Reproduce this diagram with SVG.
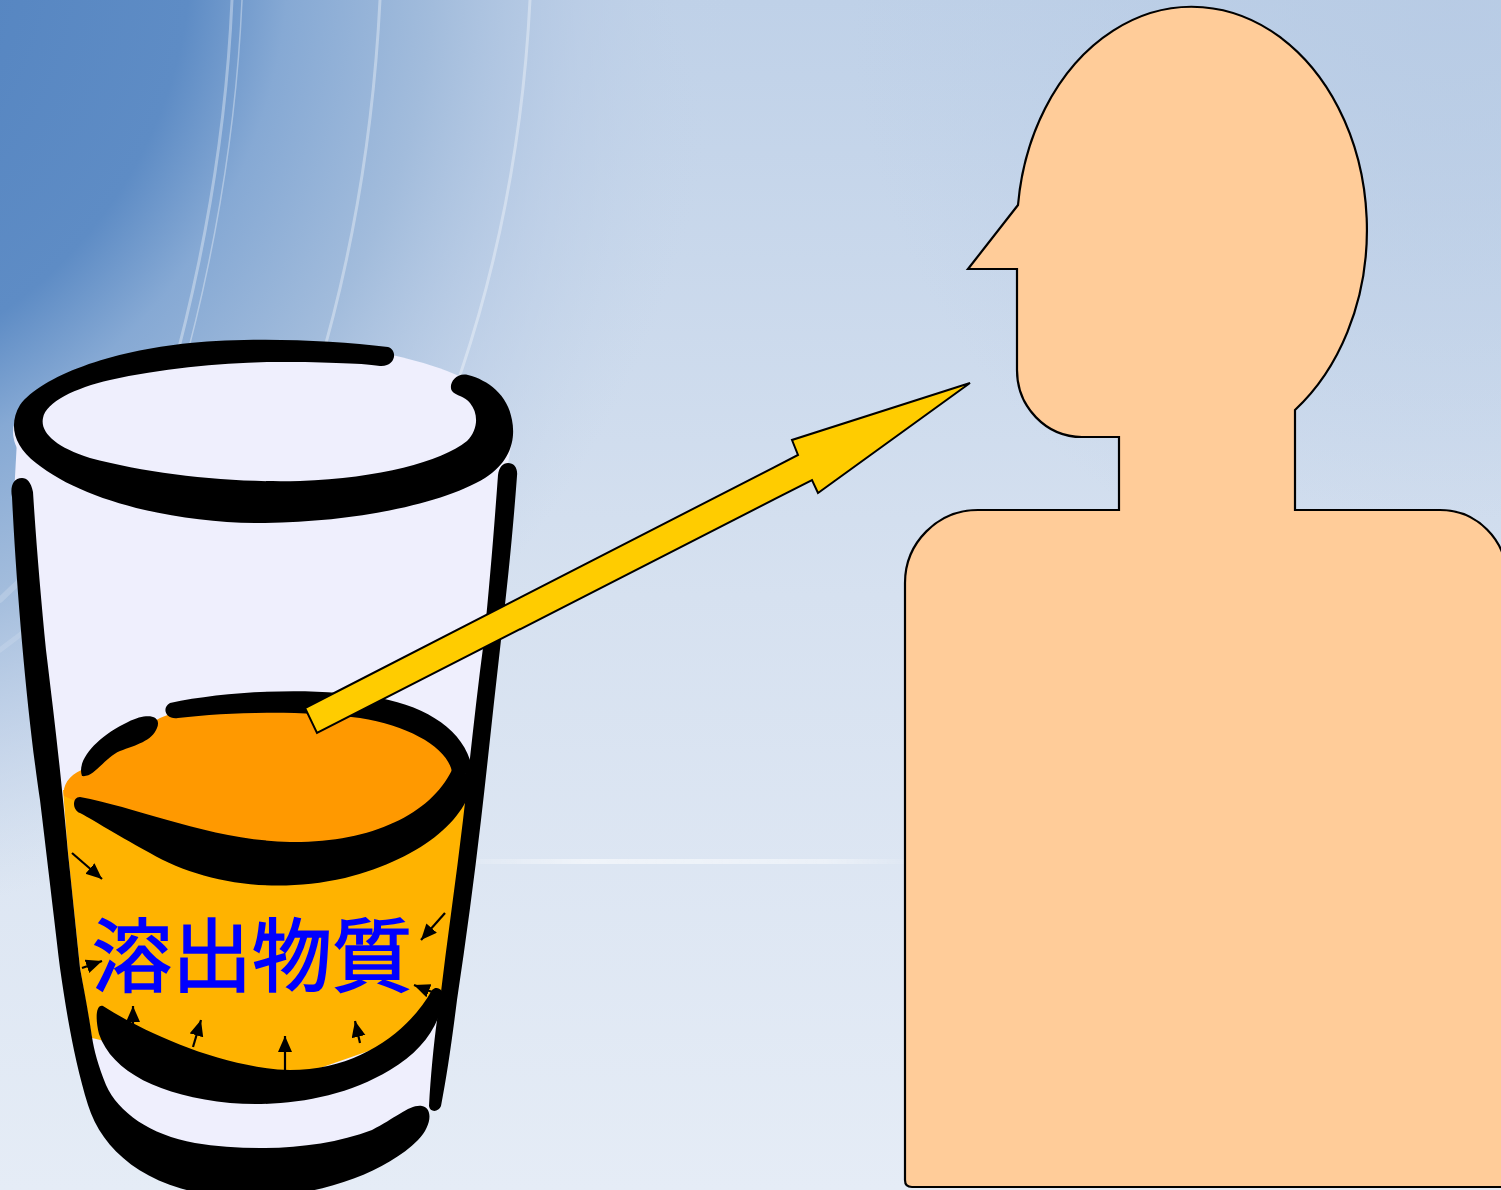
<svg xmlns="http://www.w3.org/2000/svg" width="1501" height="1190" viewBox="0 0 1501 1190">
  <defs>
    <linearGradient id="sky" x1="0" y1="0" x2="0" y2="1">
      <stop offset="0" stop-color="#bfd1e8"/>
      <stop offset="0.5" stop-color="#d6e1f0"/>
      <stop offset="1" stop-color="#e5ecf6"/>
    </linearGradient>
    <radialGradient id="skyCorner" cx="-250" cy="-50" r="980" gradientUnits="userSpaceOnUse">
      <stop offset="0" stop-color="#4e7fbd"/>
      <stop offset="0.45" stop-color="#5e8cc5"/>
      <stop offset="0.55" stop-color="#86a9d4"/>
      <stop offset="0.7" stop-color="#a2bcdc"/>
      <stop offset="0.85" stop-color="#b8cbe5" stop-opacity="0.6"/>
      <stop offset="1" stop-color="#c3d4e9" stop-opacity="0"/>
    </radialGradient>
    <radialGradient id="skyRight" cx="1450" cy="0" r="600" gradientUnits="userSpaceOnUse">
      <stop offset="0" stop-color="#b6cae4" stop-opacity="0.8"/>
      <stop offset="1" stop-color="#b6cae4" stop-opacity="0"/>
    </radialGradient>
    <linearGradient id="band" x1="0" y1="0" x2="1" y2="0">
      <stop offset="0" stop-color="#ffffff" stop-opacity="0"/>
      <stop offset="0.3" stop-color="#ffffff" stop-opacity="0.55"/>
      <stop offset="0.8" stop-color="#ffffff" stop-opacity="0.45"/>
      <stop offset="1" stop-color="#ffffff" stop-opacity="0"/>
    </linearGradient>
    <marker id="ah" markerUnits="userSpaceOnUse" markerWidth="18" markerHeight="16" refX="16" refY="7" orient="auto">
      <path d="M0,0 L16,7 L0,14 Z" fill="#000"/>
    </marker>
    <style>
      .ink { fill: #000; }
      .glass { fill: #efeffd; }
      .streak { fill: none; stroke: #ffffff; stroke-linecap: round; }
      .tick { stroke: #000; stroke-width: 2.2; fill: none; marker-end: url(#ah); }
      .skin { fill: #ffcc99; stroke: #000; stroke-width: 2.2; stroke-linejoin: miter; }
      .label { font-family: "Noto Sans CJK JP", "Noto Sans CJK SC", sans-serif; font-size: 80px; font-weight: 400; fill: #0000ff; stroke: #0000ff; stroke-width: 1.6; }
    </style>
  </defs>

  <!-- backdrop -->
  <rect x="0" y="0" width="1501" height="1190" fill="url(#sky)"/>
  <rect x="0" y="0" width="1501" height="1190" fill="url(#skyRight)"/>
  <rect x="0" y="0" width="1501" height="1190" fill="url(#skyCorner)"/>
  <g opacity="0.35">
    <path class="streak" d="M232,0 Q222,230 143,470" stroke-width="3"/>
    <path class="streak" d="M242,0 Q232,230 153,470" stroke-width="1.5"/>
    <path class="streak" d="M380,0 Q368,240 292,450" stroke-width="3"/>
    <path class="streak" d="M530,0 Q518,240 432,450" stroke-width="3"/>
    <path class="streak" d="M0,600 Q40,560 100,520" stroke-width="6" opacity="0.5"/>
    <path class="streak" d="M0,650 Q50,610 110,580" stroke-width="5" opacity="0.4"/>
  </g>
  <rect x="440" y="859" width="480" height="5" fill="url(#band)"/>

  <!-- glass with liquid -->
  <g id="glass">
    <ellipse class="glass" cx="263" cy="432" rx="250" ry="90"/>
    <path class="glass" d="M17,440 L14,495 L48,853 L75,1050 L130,1150 L260,1165 L420,1118 L440,1100 L507,470 L512,440 Z"/>

    <!-- liquid body and surface -->
    <path fill="#ffb300" d="M63,790 L470,785 L458,900 L447,988 L437,994 L400,1040 L280,1082 L150,1052 L92,1038 L80,968 L68,853 Z"/>
    <path fill="#ff9900" d="M64,796 C62,783 72,773 86,768 L130,735 L160,718 L175,712 C250,700 330,700 400,712 C440,725 462,750 462,775 L452,778 C430,818 370,848 290,848 C210,848 140,815 80,803 Z"/>

    <!-- liquid outlines -->
    <path class="ink" d="M82,776 C76,760 98,736 128,722 C148,712 162,716 157,728 C152,741 136,745 120,751 C104,758 94,778 82,776 Z"/>
    <path class="ink" d="M170,703 C230,690 320,687 380,698 C432,708 470,735 473,775 L452,772 C448,748 410,726 360,718 C300,710 230,712 178,718 C166,720 161,708 170,703 Z"/>
    <path class="ink" d="M80,797 C140,808 210,840 290,842 C370,843 430,815 452,770 L473,775 C472,815 425,858 345,878 C270,895 200,882 150,853 C110,831 90,818 80,813 C72,810 72,797 80,797 Z"/>
    <path class="ink" d="M103,1006 C140,1030 220,1068 290,1070 C360,1070 410,1030 432,990 C438,984 446,992 443,1002 C437,1030 420,1052 390,1070 C340,1100 280,1107 230,1103 C160,1096 112,1072 99,1034 C95,1018 96,1004 103,1006 Z"/>

    <!-- diffusion arrows -->
    <line class="tick" x1="72" y1="853" x2="102" y2="879"/>
    <line class="tick" x1="82" y1="968" x2="102" y2="961"/>
    <line class="tick" x1="445" y1="913" x2="421" y2="940"/>
    <line class="tick" x1="440" y1="995" x2="414" y2="985"/>
    <line class="tick" x1="133" y1="1031" x2="133" y2="1006"/>
    <line class="tick" x1="193" y1="1047" x2="201" y2="1020"/>
    <line class="tick" x1="285" y1="1070" x2="285" y2="1036"/>
    <line class="tick" x1="360" y1="1043" x2="355" y2="1021"/>

    <text class="label" x="252" y="985" text-anchor="middle">溶出物質</text>

    <!-- glass outlines -->
    <path class="ink" d="M388,347 C330,340 250,337 190,343 C110,351 42,376 20,405 C8,425 14,446 36,463 C82,500 170,522 255,523 C350,523 440,505 485,478 C510,462 516,440 512,420 C508,395 488,380 468,375 C455,372 448,385 452,391 C456,396 465,396 470,403 C479,414 478,430 467,441 C440,462 380,478 300,481 C230,483 150,474 90,458 C55,447 40,432 43,418 C46,402 75,388 110,380 C160,369 220,363 270,362 C320,362 360,363 380,366 C396,367 398,350 388,347 Z"/>
    <path class="ink" d="M22,478 C13,478 10,487 12,497 C17,600 28,720 40,800 C46,850 52,900 60,968 C66,1010 74,1060 88,1105 C102,1150 145,1188 220,1196 C300,1203 380,1178 418,1140 C432,1126 433,1108 422,1106 C410,1104 396,1118 372,1130 C320,1150 250,1152 195,1143 C150,1135 118,1112 106,1085 C98,1065 94,1050 92,1037 C88,1010 84,990 80,968 C76,930 72,890 68,853 C66,830 64,810 62,790 C57,740 52,700 46,650 C41,600 36,540 33,492 C31,482 27,478 22,478 Z"/>
    <path class="ink" d="M508,463 C514,463 518,468 517,476 C513,530 508,580 501,640 C494,700 488,760 481,820 C474,880 466,940 457,1000 C452,1040 447,1075 441,1106 C439,1112 430,1113 429,1106 C431,1070 435,1030 440,1000 C447,940 456,880 463,820 C470,760 476,700 484,640 C490,580 494,530 498,475 C499,467 503,463 508,463 Z"/>
  </g>

  <!-- transfer arrow from liquid to person -->
  <g id="connectors">
    <polygon points="305,708 798,455 792,440 970,383 818,493 812,480 317,733" fill="#ffcc00" stroke="#000" stroke-width="2" stroke-linejoin="miter"/>
  </g>

  <!-- person silhouette -->
  <g id="person">
    <path class="skin" d="M1018,205 A175,223 0 1 1 1295,410 L1295,510 L1440,510 A66.5,66.5 0 0 1 1506.5,576.5 L1506.5,1187 L912,1187 Q905,1187 905,1180 L905,583 A73,73 0 0 1 978,510 L1119,510 L1119,437 L1082,437 A65,67 0 0 1 1017,370 L1017,269 L968,269 Z"/>
  </g>
</svg>
